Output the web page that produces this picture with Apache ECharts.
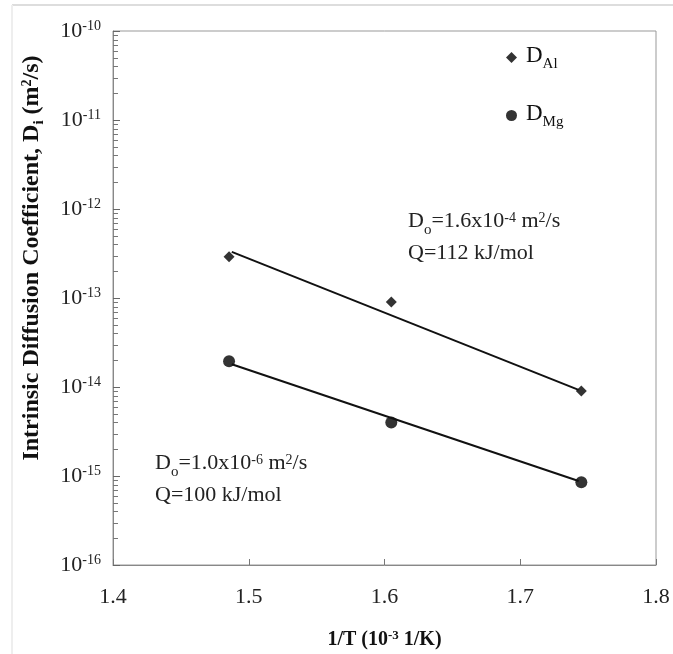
<!DOCTYPE html>
<html>
<head>
    <meta charset="UTF-8">
    <title>Intrinsic Diffusion Coefficient</title>
    <style>
        html, body { margin: 0; padding: 0; background: #fff; }
        #chart { width: 673px; height: 654px; }
    </style>
</head>
<body>
    <div id="chart"></div>
    <script src="https://cdn.jsdelivr.net/npm/echarts@6/dist/echarts.min.js"></script>
    <script>
    // measured points  [1/T (10^-3 1/K), D (m2/s)]
    var dAl = [[1.4855, 2.9e-13], [1.605, 9.0e-14], [1.745, 9.0e-15]];
    var dMg = [[1.4855, 1.95e-14], [1.605, 4.0e-15], [1.745, 8.5e-16]];
    // fitted Arrhenius lines (end points)
    var fitAl = [[1.4875, 3.3e-13], [1.743, 9.3e-15]];
    var fitMg = [[1.4875, 1.8e-14], [1.743, 8.8e-16]];
    var xTicks = [1.4, 1.5, 1.6, 1.7, 1.8];
    var yDecades = [-16, -15, -14, -13, -12, -11, -10];

    var serif = 'Liberation Serif';

    var chart = echarts.init(document.getElementById('chart'));
    var frameLines = [
        { type: 'line', silent: true, shape: { x1: 12, y1: 5, x2: 673, y2: 5 }, style: { stroke: '#ddd', lineWidth: 2 } },
        { type: 'line', silent: true, shape: { x1: 12, y1: 5, x2: 12, y2: 654 }, style: { stroke: '#eee', lineWidth: 2 } }
    ];
    var labels = [
        {
            type: 'text', x: 32, y: 258, rotation: Math.PI / 2,
            style: {
                text: '{b|Intrinsic Diffusion Coefficient, D}{bs|i}{b| (m}{bp|2}{b|/s)}',
                align: 'center',
                verticalAlign: 'middle',
                rich: {
                    b: { fontFamily: serif, fontSize: 24, fontWeight: 'bold', fill: '#111' },
                    bs: { fontFamily: serif, fontSize: 15, fontWeight: 'bold', fill: '#111', verticalAlign: 'top', padding: [14, 0, 0, 0] },
                    bp: { fontFamily: serif, fontSize: 14, fontWeight: 'bold', fill: '#111', verticalAlign: 'bottom', padding: [0, 0, 12, 0] }
                }
            }
        },
        {
            type: 'text', left: 408, top: 210,
            style: {
                text: '{a|D}{o|o}{a|=1.6x10}{p|-4}{a| m}{p|2}{a|/s}\n{a|Q=112 kJ/mol}',
                rich: {
                    a: { fontFamily: serif, fontSize: 22, fill: '#222', lineHeight: 31 },
                    o: { fontFamily: serif, fontSize: 15, fill: '#222', verticalAlign: 'top', padding: [18, 0, 0, 0] },
                    p: { fontFamily: serif, fontSize: 14, fill: '#222', verticalAlign: 'bottom', padding: [0, 0, 12, 0] }
                }
            }
        },
        {
            type: 'text', left: 155, top: 452,
            style: {
                text: '{a|D}{o|o}{a|=1.0x10}{p|-6}{a| m}{p|2}{a|/s}\n{a|Q=100 kJ/mol}',
                rich: {
                    a: { fontFamily: serif, fontSize: 22, fill: '#222', lineHeight: 31 },
                    o: { fontFamily: serif, fontSize: 15, fill: '#222', verticalAlign: 'top', padding: [18, 0, 0, 0] },
                    p: { fontFamily: serif, fontSize: 14, fill: '#222', verticalAlign: 'bottom', padding: [0, 0, 12, 0] }
                }
            }
        }
    ];

    var option = {
        animation: false,
        backgroundColor: '#fff',
        grid: { left: 113, right: 17, top: 31, bottom: 89, show: true, borderColor: '#999', borderWidth: 1, outerBoundsMode: 'none' },
        legend: {
            data: ['D_Al', 'D_Mg'],
            orient: 'vertical',
            left: 501,
            top: 39,
            itemGap: 30,
            itemWidth: 11,
            itemHeight: 11,
            formatter: function (name) {
                return name === 'D_Al' ? '{b|D}{sub|Al}' : '{b|D}{sub|Mg}';
            },
            textStyle: {
                rich: {
                    b: { fontFamily: serif, fontSize: 23, color: '#111', padding: [0, 0, 4, 4] },
                    sub: { fontFamily: serif, fontSize: 15, color: '#111', verticalAlign: 'top', padding: [14, 0, 0, 0] }
                }
            }
        },
        xAxis: {
            type: 'value',
            min: xTicks[0],
            max: xTicks[xTicks.length - 1],
            interval: 0.1,
            name: '{b|1/T (10}{s|-3}{b| 1/K)}',
            nameLocation: 'middle',
            nameGap: 64,
            nameTextStyle: {
                rich: {
                    b: { fontFamily: serif, fontSize: 20, fontWeight: 'bold', color: '#111' },
                    s: { fontFamily: serif, fontSize: 13, fontWeight: 'bold', color: '#111', verticalAlign: 'bottom', padding: [0, 0, 9, 0] }
                }
            },
            axisLine: { lineStyle: { color: '#888' } },
            axisTick: { inside: true, length: 6, lineStyle: { color: '#777' } },
            splitLine: { show: false },
            axisLabel: {
                margin: 21,
                fontFamily: serif,
                fontSize: 22,
                color: '#222',
                formatter: function (v) { return v.toFixed(1); }
            }
        },
        yAxis: {
            type: 'log',
            logBase: 10,
            min: 1e-16,
            max: 1e-10,
            axisLine: { show: true, lineStyle: { color: '#888' } },
            axisTick: { inside: true, length: 7, lineStyle: { color: '#666' } },
            splitLine: { show: false },
            axisLabel: {
                margin: 12,
                formatter: function (v) {
                    var e = Math.round(Math.log(v) / Math.LN10);
                    return '{b|10}{s|' + e + '}';
                },
                rich: {
                    b: { fontFamily: serif, fontSize: 22, color: '#222' },
                    s: { fontFamily: serif, fontSize: 14, color: '#222', verticalAlign: 'bottom', padding: [0, 0, 10, 0] }
                }
            }
        },
        graphic: frameLines.concat(labels),
        series: [
            {
                name: 'fitAl',
                type: 'line',
                data: fitAl,
                showSymbol: false,
                lineStyle: { color: '#111', width: 2 },
                silent: true
            },
            {
                name: 'fitMg',
                type: 'line',
                data: fitMg,
                showSymbol: false,
                lineStyle: { color: '#111', width: 2 },
                silent: true
            },
            {
                name: 'D_Al',
                type: 'scatter',
                symbol: 'diamond',
                symbolSize: 11,
                itemStyle: { color: '#000' },
                data: dAl
            },
            {
                name: 'D_Mg',
                type: 'scatter',
                symbol: 'circle',
                symbolSize: 12,
                itemStyle: { color: '#000' },
                data: dMg
            }
        ]
    };
    chart.setOption(option);

    // minor log ticks (2..9 x 10^k) on the inside of the y axis
    var minor = [];
    for (var k = 0; k < yDecades.length - 1; k++) {
        for (var m = 2; m <= 9; m++) {
            var p = chart.convertToPixel({ xAxisIndex: 0, yAxisIndex: 0 }, [xTicks[0], m * Math.pow(10, yDecades[k])]);
            var y = Math.round(p[1]) + 0.5;
            minor.push({
                type: 'line', silent: true, z: 5,
                shape: { x1: p[0], y1: y, x2: p[0] + 5, y2: y },
                style: { stroke: '#777', lineWidth: 1 }
            });
        }
    }
    chart.setOption({ graphic: frameLines.concat(labels).concat(minor) });
    </script>
</body>
</html>
